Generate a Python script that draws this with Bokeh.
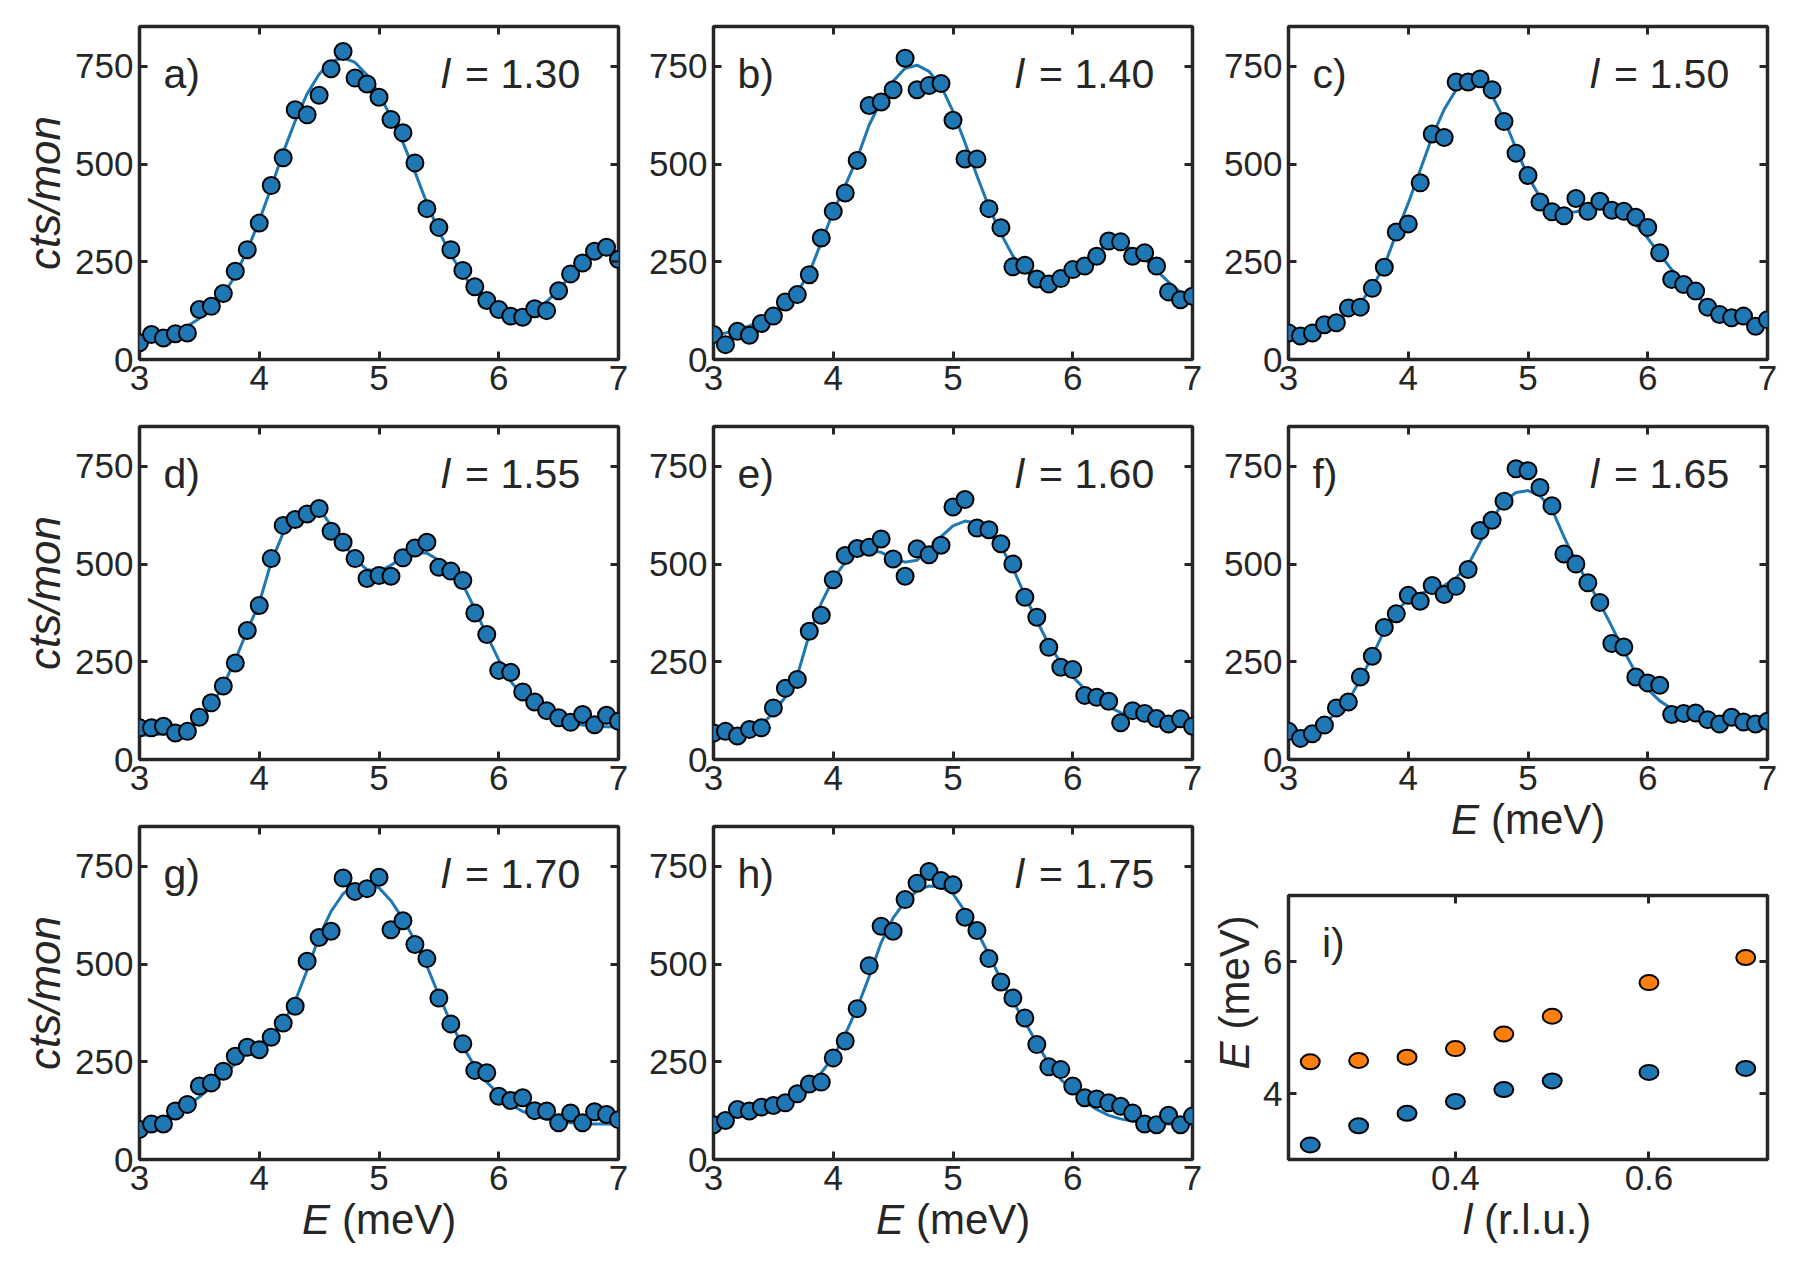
from math import pi

from bokeh.core.properties import value
from bokeh.embed import file_html
from bokeh.layouts import column, row
from bokeh.models import CustomJSTickFormatter, FixedTicker, Label, LinearAxis, Range1d
from bokeh.plotting import figure
from bokeh.resources import INLINE

FONT = "Liberation Sans"
INK = "#262626"
BLUE = "#1f77b4"
ORANGE = "#ff7f0e"
TICK_PX = "35px"
TEXT_PX = "41px"
AXIS_PX = "42px"

# energy transfer grid of the constant-l scans (meV)
energy = [3.0, 3.1, 3.2, 3.3, 3.4, 3.5, 3.6, 3.7, 3.8, 3.9,
          4.0, 4.1, 4.2, 4.3, 4.4, 4.5, 4.6, 4.7, 4.8, 4.9,
          5.0, 5.1, 5.2, 5.3, 5.4, 5.5, 5.6, 5.7, 5.8, 5.9,
          6.0, 6.1, 6.2, 6.3, 6.4, 6.5, 6.6, 6.7, 6.8, 6.9, 7.0]

# measured intensity (cts/mon) and fitted line for each scan
counts_a = [43, 64, 55, 66, 68, 128, 136, 169, 226, 281, 349, 445, 516, 639, 626, 676, 744, 788, 720, 705,
            671, 614, 580, 503, 386, 338, 281, 228, 186, 151, 128, 111, 108, 130, 125, 176, 219, 247, 277, 287, 256]
fit_a = [45, 55, 63, 72, 85, 105, 130, 165, 215, 280, 355, 440, 530, 610, 680, 730, 762, 772, 760, 728,
         680, 620, 555, 480, 400, 328, 268, 218, 178, 148, 128, 118, 118, 128, 148, 178, 215, 250, 275, 285, 275]

counts_b = [64, 38, 72, 62, 92, 111, 147, 166, 217, 311, 379, 426, 509, 650, 659, 690, 771, 690, 701, 706,
            612, 513, 513, 386, 337, 237, 241, 206, 193, 207, 230, 239, 264, 303, 301, 264, 273, 239, 173, 153, 162]
fit_b = [62, 68, 76, 86, 98, 115, 140, 172, 222, 300, 378, 445, 515, 600, 662, 712, 745, 753, 737, 700,
         635, 555, 470, 390, 322, 265, 228, 208, 203, 210, 228, 252, 277, 293, 295, 282, 258, 228, 198, 172, 152]

counts_c = [68, 60, 68, 89, 94, 132, 134, 182, 236, 326, 347, 452, 577, 568, 710, 710, 718, 690, 609, 528,
            471, 403, 378, 368, 412, 379, 405, 382, 379, 364, 338, 273, 205, 192, 175, 134, 115, 107, 111, 85, 102]
fit_c = [65, 70, 77, 87, 100, 118, 145, 185, 240, 322, 400, 485, 570, 640, 690, 712, 708, 675, 615, 540,
         468, 415, 385, 375, 378, 385, 390, 385, 370, 345, 310, 270, 230, 195, 165, 140, 122, 110, 102, 97, 95]

counts_d = [81, 81, 85, 68, 72, 108, 145, 188, 247, 330, 394, 514, 599, 614, 628, 642, 584, 556, 514, 463,
            471, 469, 516, 541, 556, 492, 482, 458, 375, 320, 228, 223, 173, 147, 125, 107, 95, 115, 89, 113, 98]
fit_d = [62, 63, 65, 68, 78, 100, 138, 190, 255, 330, 400, 505, 580, 622, 640, 643, 598, 555, 512, 486,
         482, 497, 518, 530, 528, 510, 482, 448, 385, 318, 255, 200, 162, 135, 115, 102, 93, 88, 85, 84, 83]

counts_e = [68, 72, 60, 77, 81, 132, 182, 205, 328, 369, 460, 522, 540, 543, 564, 513, 469, 539, 524, 548,
            646, 665, 592, 588, 552, 500, 415, 364, 287, 236, 230, 164, 159, 149, 94, 125, 118, 105, 91, 104, 85]
fit_e = [68, 70, 72, 76, 88, 120, 160, 215, 320, 400, 462, 505, 528, 535, 530, 515, 505, 510, 535, 570,
         598, 610, 605, 580, 545, 490, 420, 355, 295, 248, 212, 180, 155, 135, 120, 110, 102, 97, 93, 90, 88]

counts_f = [72, 54, 66, 88, 132, 147, 211, 264, 338, 373, 420, 405, 445, 422, 443, 486, 586, 612, 661, 744,
            739, 696, 649, 526, 500, 452, 402, 297, 288, 211, 196, 190, 115, 118, 119, 102, 91, 108, 96, 91, 98]
fit_f = [68, 72, 80, 95, 118, 150, 205, 265, 330, 380, 410, 425, 433, 445, 465, 498, 555, 615, 660, 683,
         688, 675, 640, 570, 505, 455, 400, 340, 278, 222, 180, 150, 130, 118, 110, 105, 102, 100, 98, 97, 96]

counts_g = [77, 91, 91, 124, 141, 188, 196, 226, 264, 287, 281, 313, 349, 392, 507, 568, 584, 720, 686, 693,
            722, 588, 611, 550, 514, 413, 347, 296, 228, 222, 162, 151, 158, 125, 124, 94, 119, 94, 122, 115, 102]
fit_g = [80, 92, 105, 120, 138, 160, 185, 215, 245, 272, 295, 318, 350, 405, 485, 570, 635, 680, 702, 707,
         695, 662, 615, 560, 495, 420, 350, 290, 238, 198, 167, 140, 123, 111, 103, 97, 94, 92, 91, 91, 90]

counts_h = [89, 100, 128, 124, 134, 138, 145, 168, 193, 198, 260, 303, 386, 496, 597, 584, 665, 707, 737, 714,
            703, 620, 586, 514, 454, 413, 362, 294, 237, 230, 188, 158, 155, 145, 136, 119, 91, 89, 113, 89, 111]
fit_h = [94, 103, 111, 118, 126, 136, 148, 163, 190, 222, 262, 320, 388, 468, 555, 618, 660, 688, 700, 697,
         680, 635, 584, 524, 460, 405, 352, 298, 245, 205, 175, 148, 128, 113, 104, 98, 94, 92, 91, 90, 90]

scan_l = ["1.30", "1.40", "1.50", "1.55", "1.60", "1.65", "1.70", "1.75"]
scan_tags = ["a)", "b)", "c)", "d)", "e)", "f)", "g)", "h)"]

# fitted peak positions versus l
l_rlu = [0.25, 0.30, 0.35, 0.40, 0.45, 0.50, 0.60, 0.70]
peak_low = [3.22, 3.51, 3.70, 3.88, 4.06, 4.19, 4.32, 4.38]
peak_high = [4.48, 4.50, 4.55, 4.68, 4.90, 5.17, 5.68, 6.06]

energy_ticks = [3, 4, 5, 6, 7]
count_ticks = [0, 250, 500, 750]
l_ticks = [0.4, 0.6]
peak_ticks = [4, 6]


def style_axis(ax, ticks, labels=True):
    ax.ticker = FixedTicker(ticks=ticks)
    ax.axis_line_color = None
    ax.major_tick_in = 8
    ax.major_tick_out = 0
    ax.major_tick_line_color = INK
    ax.major_tick_line_width = 3
    ax.minor_tick_line_color = None
    ax.major_label_text_font = FONT
    ax.major_label_text_font_size = TICK_PX
    ax.major_label_text_color = INK
    ax.major_label_standoff = 6
    if not labels:
        ax.formatter = CustomJSTickFormatter(code="return ''")
        ax.major_label_standoff = 0


def make_panel(xr, yr, xticks, yticks, fh, left, right, top, bottom):
    p = figure(frame_width=479, frame_height=fh,
               x_range=Range1d(*xr), y_range=Range1d(*yr),
               min_border_left=left, min_border_right=right,
               min_border_top=top, min_border_bottom=bottom,
               output_backend="svg", toolbar_location=None,
               background_fill_color="white", border_fill_color="white")
    p.grid.visible = False
    p.outline_line_color = INK
    p.outline_line_width = 3.5
    style_axis(p.xaxis[0], xticks)
    style_axis(p.yaxis[0], yticks)
    top_ax = LinearAxis()
    style_axis(top_ax, xticks, labels=False)
    p.add_layout(top_ax, "above")
    right_ax = LinearAxis()
    style_axis(right_ax, yticks, labels=False)
    p.add_layout(right_ax, "right")
    return p


def add_label(p, x, y, text, align="left", italic=False, dx=0):
    # text inside the frame
    p.add_layout(Label(x=x, y=y, text=text, x_offset=dx,
                       text_font=FONT, text_font_size=TEXT_PX,
                       text_font_style="italic" if italic else "normal",
                       text_color=INK, text_align=align, text_baseline="middle"))


def add_outer_text(p, x, y, text, align="left", italic=False, dx=0, dy=0, angle=0.0, size=AXIS_PX):
    # text in the border area next to the frame (drawn above the frame clip)
    p.text(x=[x], y=[y], text=[text], x_offset=dx, y_offset=dy, angle=angle,
           text_font=value(FONT), text_font_size=size,
           text_font_style="italic" if italic else "normal",
           text_color=INK, text_align=align, text_baseline="middle", level="annotation")


def energy_label(p):
    # "E (meV)" centred below the frame, E in italics
    add_outer_text(p, 5, 0, "E", italic=True, dx=-77, dy=60)
    add_outer_text(p, 5, 0, "(meV)", dx=-37, dy=60)


scans = [(counts_a, fit_a), (counts_b, fit_b), (counts_c, fit_c), (counts_d, fit_d),
         (counts_e, fit_e), (counts_f, fit_f), (counts_g, fit_g), (counts_h, fit_h)]

# border sizes (left, right, top, bottom) per scan panel
borders = [(139, 20, 26, 41), (75, 20, 26, 41), (76, 37, 26, 41),
           (139, 20, 26, 41), (75, 20, 26, 41), (76, 37, 26, 100),
           (139, 20, 26, 123), (75, 20, 26, 123)]

Y_MAX = 852
panels = []
for k, ((cts, fit), (bl, br, bt, bb)) in enumerate(zip(scans, borders)):
    p = make_panel((3, 7), (0, Y_MAX), energy_ticks, count_ticks, 333, bl, br, bt, bb)
    p.line(energy, fit, line_color=BLUE, line_width=3)
    p.scatter(energy, cts, size=17, fill_color=BLUE, line_color="black", line_width=2)
    add_label(p, 3.2, 730, scan_tags[k])
    add_label(p, 6.68, 730, "= " + scan_l[k], align="right")
    add_label(p, 6.68, 730, "l", align="right", italic=True, dx=-130)
    if k % 3 == 0:
        add_outer_text(p, 3, Y_MAX / 2, "cts/mon", align="center", italic=True, dx=-95,
                       angle=pi / 2, size="44px")
    if k >= 5:
        energy_label(p)
    panels.append(p)

# dispersion of the two fitted modes
pi_panel = make_panel((0.2275, 0.7225), (3, 7), l_ticks, peak_ticks, 264, 76, 37, 36, 123)
pi_panel.ellipse(l_rlu, peak_low, width=19, height=15, width_units="screen", height_units="screen",
                 fill_color=BLUE, line_color="black", line_width=2)
pi_panel.ellipse(l_rlu, peak_high, width=19, height=15, width_units="screen", height_units="screen",
                 fill_color=ORANGE, line_color="black", line_width=2)
add_label(pi_panel, 0.262, 6.28, "i)")
add_outer_text(pi_panel, 0.2275, 5.53, "E", italic=True, dx=-54, dy=77, angle=pi / 2)
add_outer_text(pi_panel, 0.2275, 5.53, "(meV)", dx=-54, dy=37, angle=pi / 2)
add_outer_text(pi_panel, 0.475, 3, "l", italic=True, dx=-65, dy=60)
add_outer_text(pi_panel, 0.475, 3, "(r.l.u.)", dx=-44, dy=60)

pa, pb, pc, pd, pe, pf, pg, ph = panels
layout = row(column(pa, pd, pg), column(pb, pe, ph), column(pc, pf, pi_panel))

open("out.html", "w").write(file_html(layout, INLINE))
